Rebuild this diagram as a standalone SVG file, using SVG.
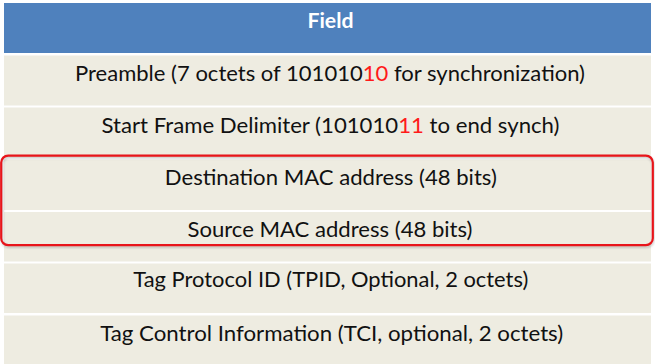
<svg xmlns="http://www.w3.org/2000/svg" width="655" height="364" viewBox="0 0 655 364">
  <style>
    .hdr { fill: #4f81bd; }
    .row { fill: #eeece1; }
    .cell { font-family: Lato, "Open Sans", "Liberation Sans", sans-serif; font-size: 21px; fill: #111111; text-anchor: middle; }
    .head { font-family: Lato, "Open Sans", "Liberation Sans", sans-serif; font-size: 21px; font-weight: bold; fill: #ffffff; text-anchor: middle; }
    .hi { fill: #ff1a1a; }
    .mark { fill: none; stroke: #e8141a; stroke-width: 2.2; }
    .mark-shadow { fill: none; stroke: #8c8c8c; stroke-width: 2.4; opacity: 0.45; }
  </style>
  <defs>
    <filter id="soft" x="-5%" y="-20%" width="110%" height="140%">
      <feGaussianBlur stdDeviation="0.9"/>
    </filter>
  </defs>

  <rect x="0" y="0" width="655" height="364" fill="#ffffff"/>

  <!-- header -->
  <g id="header">
    <rect class="hdr" x="4" y="3" width="647" height="50"/>
    <text class="head" x="330.5" y="28.3" textLength="46" lengthAdjust="spacingAndGlyphs">Field</text>
  </g>

  <!-- field rows -->
  <g id="row-preamble">
    <rect class="row" x="4" y="55.5" width="647" height="50"/>
    <text class="cell" x="330" y="81" textLength="510" lengthAdjust="spacingAndGlyphs">Preamble (7 octets of 101010<tspan class="hi">10</tspan> for synchronization)</text>
  </g>
  <g id="row-sfd">
    <rect class="row" x="4" y="107.5" width="647" height="50"/>
    <text class="cell" x="330.5" y="133.3" textLength="458" lengthAdjust="spacingAndGlyphs">Start Frame Delimiter (101010<tspan class="hi">11</tspan> to end synch)</text>
  </g>
  <g id="row-dst">
    <rect class="row" x="4" y="159.5" width="647" height="50.5"/>
    <text class="cell" x="330.8" y="185" textLength="332" lengthAdjust="spacingAndGlyphs">Destination MAC address (48 bits)</text>
  </g>
  <g id="row-src">
    <rect class="row" x="4" y="212" width="647" height="49.5"/>
    <text class="cell" x="330" y="236.7" textLength="285" lengthAdjust="spacingAndGlyphs">Source MAC address (48 bits)</text>
  </g>
  <g id="row-tpid">
    <rect class="row" x="4" y="263.5" width="647" height="49.5"/>
    <text class="cell" x="330.8" y="286.7" textLength="395" lengthAdjust="spacingAndGlyphs">Tag Protocol ID (TPID, Optional, 2 octets)</text>
  </g>
  <g id="row-tci">
    <rect class="row" x="4" y="315.5" width="647" height="50"/>
    <text class="cell" x="331.7" y="341" textLength="463" lengthAdjust="spacingAndGlyphs">Tag Control Information (TCI, optional, 2 octets)</text>
  </g>

  <!-- highlight around the MAC address fields -->
  <g id="mac-highlight">
    <rect class="mark-shadow" x="2.2" y="157.4" width="651" height="89.5" rx="7" filter="url(#soft)"/>
    <rect class="mark" x="1.2" y="155.6" width="651.6" height="89.6" rx="7"/>
  </g>
</svg>
